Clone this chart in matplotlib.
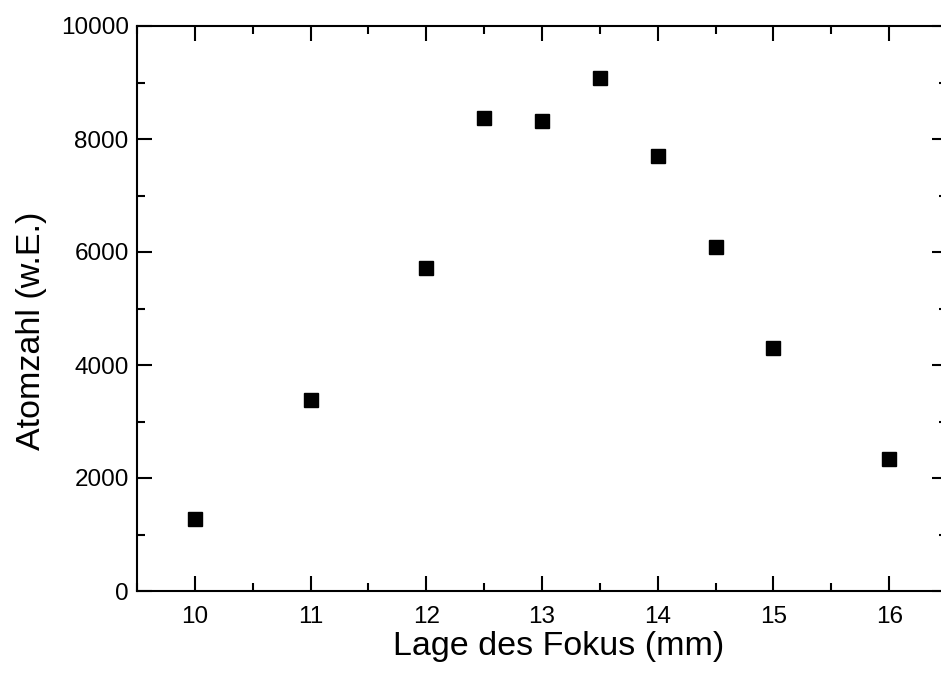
import matplotlib
matplotlib.use("Agg")
import matplotlib.pyplot as plt
from matplotlib.ticker import MultipleLocator

plt.rcParams['font.family'] = ['Liberation Sans', 'DejaVu Sans']

focus_mm = [10, 11, 12, 12.5, 13, 13.5, 14, 14.5, 15, 16]
atom_number = [1275, 3380, 5720, 8370, 8320, 9080, 7700, 6090, 4300, 2335]

fig = plt.figure(figsize=(9.41, 6.75), dpi=100)
ax = fig.add_axes([137/941, 1 - 591/675, (947 - 137)/941, (591 - 26)/675])
ax.plot(focus_mm, atom_number, linestyle='none', marker='s', markersize=9.4,
        color='black')
ax.set_xlim(9.5, 16.5)
ax.set_ylim(0, 10000)
ax.xaxis.set_major_locator(MultipleLocator(1))
ax.xaxis.set_minor_locator(MultipleLocator(0.5))
ax.yaxis.set_major_locator(MultipleLocator(2000))
ax.yaxis.set_minor_locator(MultipleLocator(1000))
ax.tick_params(which='both', direction='in', top=True, right=True, width=1.5,
               labelsize=17.5)
ax.tick_params(axis='x', which='both', pad=11)
ax.tick_params(axis='y', which='both', pad=6)
ax.tick_params(which='major', length=11)
ax.tick_params(which='minor', length=6)
for s in ax.spines.values():
    s.set_linewidth(1.5)
ax.set_xlabel('Lage des Fokus (mm)', fontsize=24.5, labelpad=2)
ax.set_ylabel('Atomzahl (w.E.)', fontsize=24.5, labelpad=10)
ax.xaxis.label.set_x(0.52)
ax.yaxis.label.set_y(0.46)
fig.savefig('out.png', dpi=100)
